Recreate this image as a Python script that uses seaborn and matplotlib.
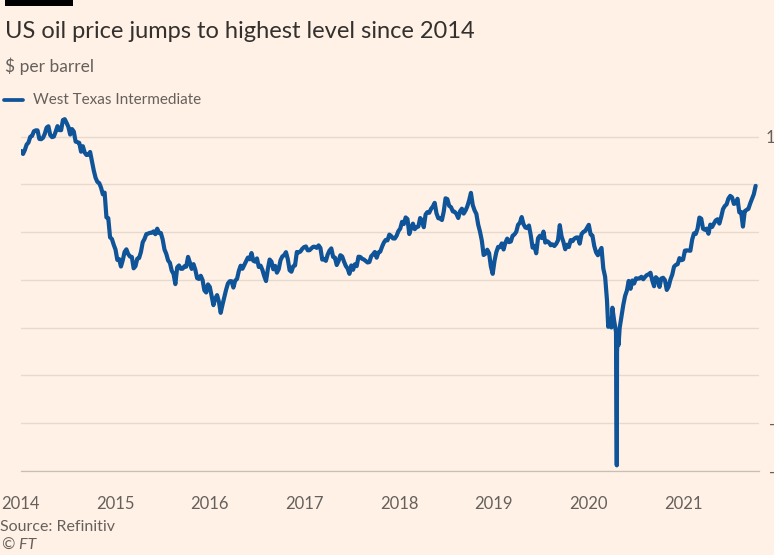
import pandas as pd
import matplotlib.pyplot as plt
import matplotlib.dates as mdates
from matplotlib.lines import Line2D
from matplotlib.patches import Rectangle
import seaborn as sns

# weekly (Friday) WTI closes, $ per barrel
wti_2014 = [93.96, 92.72, 94.37, 96.64, 97.49,
            99.88, 100.30, 102.20, 102.59,
            102.58, 99.00, 98.89, 99.46,
            101.14, 103.74, 104.30, 100.60,
            99.76, 100.00, 102.02, 104.35, 102.71,
            102.66, 106.91, 107.26, 105.74,
            104.06, 100.83, 103.13, 102.09,
            97.88, 97.65, 97.35, 93.65, 95.96,
            93.29, 92.27, 92.41, 93.54,
            89.74, 85.82, 82.75, 81.01, 80.54,
            78.65, 75.82, 76.51, 66.15,
            65.84, 57.81, 57.13, 54.73]
wti_2015 = [52.69, 48.36, 48.69, 45.59, 48.24,
            51.69, 52.78, 50.81, 49.76,
            49.61, 44.84, 45.72, 48.87,
            49.14, 51.64, 55.74, 57.15,
            59.15, 59.39, 59.69, 59.72, 60.30,
            59.13, 61.43, 59.61, 59.63,
            56.93, 52.74, 50.89, 48.14, 47.12,
            43.87, 42.50, 38.24, 45.22,
            46.05, 44.63, 44.68, 45.70,
            45.54, 49.63, 47.26, 44.60, 46.59,
            44.29, 40.74, 40.39, 41.71,
            39.97, 35.62, 34.73, 38.10]
wti_2016 = [37.04, 33.16, 29.42, 32.19, 33.62,
            30.89, 26.21, 29.64, 32.78,
            35.92, 38.50, 39.44, 39.46,
            36.79, 39.72, 40.36, 43.73, 45.92,
            44.66, 46.21, 47.75, 49.33,
            48.62, 51.23, 47.98, 47.64,
            48.99, 45.41, 45.95, 44.19, 41.60,
            39.51, 44.49, 48.52, 47.64,
            44.44, 45.88, 43.03, 44.48, 48.24,
            49.81, 50.35, 51.60, 48.70,
            44.07, 43.41, 45.69, 46.06,
            51.68, 51.50, 51.90, 53.02, 53.72]
wti_2017 = [53.99, 52.37, 52.42, 53.17,
            53.83, 53.86, 53.40, 54.45,
            53.33, 48.49, 48.78, 47.97, 50.60,
            52.24, 53.18, 49.62, 49.33,
            46.22, 47.84, 50.33, 49.80,
            47.66, 45.83, 44.74, 42.53, 46.04,
            44.23, 46.54, 45.77, 49.71,
            49.58, 48.82, 48.51, 47.87,
            47.29, 47.48, 49.89, 50.66, 51.67,
            49.29, 51.45, 51.84, 53.90,
            55.64, 56.74, 56.55, 58.95,
            58.36, 57.36, 57.30, 58.47, 60.42]
wti_2018 = [61.44, 64.30, 63.37, 66.14,
            65.45, 59.20, 61.68, 63.55,
            61.25, 62.04, 62.34, 65.88, 64.94,
            62.06, 67.39, 68.38, 68.10,
            69.72, 70.70, 72.24, 67.88,
            65.81, 65.74, 65.06, 68.58, 74.15,
            73.80, 71.01, 70.46, 68.69,
            68.49, 67.63, 65.91, 68.72, 69.80,
            67.75, 68.99, 70.78, 73.25,
            76.41, 71.34, 69.12, 67.59,
            63.14, 60.19, 56.46, 50.42, 50.93,
            52.61, 51.20, 45.59, 42.53]
wti_2019 = [47.96, 51.59, 53.80, 53.69,
            55.26, 52.72, 55.59, 57.26,
            55.80, 56.07, 58.52, 59.04, 60.14,
            63.08, 63.89, 66.30, 63.30,
            61.94, 61.66, 62.76, 58.63, 53.50,
            54.26, 51.14, 57.43, 58.47,
            57.51, 60.21, 55.63, 56.20,
            55.66, 54.50, 54.87, 54.17, 55.10,
            56.52, 62.90, 58.09, 55.91,
            52.81, 54.70, 53.78, 56.66,
            56.20, 57.24, 57.72, 57.77, 55.17,
            59.20, 60.07, 60.44, 61.72]
wti_2020 = [63.05, 59.04, 58.54, 54.19, 51.56,
            50.32, 52.05, 53.38, 44.76,
            41.28, 31.73, 22.43, 21.51,
            28.34, 22.76, 18.27, 16.94,
            19.78, 24.74, 29.43, 33.25, 35.49,
            39.55, 36.26, 39.75, 38.49,
            40.65, 40.55, 40.59, 41.29, 40.27,
            41.22, 42.01, 42.34, 42.97,
            39.77, 37.33, 41.11, 40.25,
            37.05, 40.60, 40.88, 39.85, 35.79,
            37.14, 40.13, 42.15, 45.53,
            46.26, 46.57, 49.10, 48.23]
wti_2021 = [48.52, 52.24, 52.36, 52.27, 52.20,
            56.85, 59.47, 59.24, 61.50,
            66.09, 65.61, 61.42, 60.97,
            61.45, 59.32, 63.13, 62.14, 63.58,
            64.90, 65.37, 63.58, 66.32,
            69.62, 70.91, 71.64, 74.05,
            75.16, 74.56, 71.81, 72.07, 73.95,
            68.28, 68.44, 62.32, 68.74,
            69.29, 69.72, 71.97, 73.98,
            75.88, 79.35]

# daily closes around the April 2020 crash
crash_dates = ['2020-03-18', '2020-03-30', '2020-04-02', '2020-04-20', '2020-04-21', '2020-04-27']
crash_values = [20.37, 20.09, 25.32, -37.63, 10.01, 12.78]

y_ticks = [-40, -20, 0, 20, 40, 60, 80, 100]

weekly = {2014: wti_2014, 2015: wti_2015, 2016: wti_2016, 2017: wti_2017,
          2018: wti_2018, 2019: wti_2019, 2020: wti_2020, 2021: wti_2021}
frames = []
for yr, vals in weekly.items():
    end = f'{yr}-12-31' if yr < 2021 else '2021-10-08'
    dates = pd.date_range(f'{yr}-01-01', end, freq='W-FRI')
    frames.append(pd.DataFrame({'date': dates, 'price': vals}))
frames.append(pd.DataFrame({'date': pd.to_datetime(crash_dates), 'price': crash_values}))
df = pd.concat(frames).sort_values('date').reset_index(drop=True)

BG = '#FFF1E5'
BLUE = '#0F5499'
GREY = '#66605C'
GRID = '#E6D9CE'
AXIS = '#C9BEB4'

sns.set_theme(style='white')
plt.rcParams['font.family'] = ['Lato', 'DejaVu Sans']
plt.rcParams['axes.unicode_minus'] = False

fig = plt.figure(figsize=(7.74, 5.55), dpi=100, facecolor=BG)
ax = fig.add_axes([20.7 / 774, 1 - 471 / 555, (759 - 20.7) / 774, 355 / 555])
ax.set_facecolor(BG)

sns.lineplot(data=df, x='date', y='price', ax=ax, color=BLUE, lw=3.0,
             solid_joinstyle='round', zorder=3)

ax.set_xlim(pd.Timestamp('2014-01-01'), pd.Timestamp('2021-10-21'))
ax.set_ylim(-40, 108.6)
ax.set_xlabel('')
ax.set_ylabel('')

ax.xaxis.set_major_locator(mdates.YearLocator())
ax.xaxis.set_major_formatter(mdates.DateFormatter('%Y'))
ax.xaxis.set_minor_locator(mdates.MonthLocator(bymonth=[4, 7, 10]))
ax.tick_params(axis='x', which='both', direction='out', length=5.5, width=0.8,
               color=AXIS, labelsize=12, labelcolor=GREY, pad=12.5)
ax.tick_params(axis='x', which='minor', length=5)

# right-hand labels sit mostly beyond the crop, as in the source image
ax.set_yticks(y_ticks)
ax.yaxis.tick_right()
ax.tick_params(axis='y', length=0, labelsize=12, labelcolor=GREY, pad=25.2)
for lab in ax.get_yticklabels():
    lab.set_horizontalalignment('right')
ax.yaxis.grid(True, color=GRID, lw=1)
ax.set_axisbelow(True)

for side in ['left', 'right', 'top']:
    ax.spines[side].set_visible(False)
ax.spines['bottom'].set_color(AXIS)
ax.spines['bottom'].set_linewidth(0.9)

# header
fig.add_artist(Rectangle((5 / 774, 1 - 6 / 555), 68 / 774, 6 / 555,
                         transform=fig.transFigure, color='#000000', lw=0))
fig.text(5 / 774, 1 - 31 / 555, 'US oil price jumps to highest level since 2014',
         fontsize=17, color='#33302E', va='center', ha='left')
fig.text(5 / 774, 1 - 66 / 555, '$ per barrel', fontsize=12.5, color=GREY,
         va='center', ha='left')
fig.add_artist(Line2D([4 / 774, 23 / 774], [1 - 100 / 555] * 2, color=BLUE, lw=2.7,
                      transform=fig.transFigure))
fig.text(33 / 774, 1 - 100 / 555, 'West Texas Intermediate', fontsize=11, color=GREY,
         va='center', ha='left')

# footer
fig.text(0, 1 - 527 / 555, 'Source: Refinitiv', fontsize=11.5, color=GREY,
         va='center', ha='left')
fig.text(2 / 774, 1 - 546 / 555, '© FT', fontsize=11.5, color=GREY, style='italic',
         va='center', ha='left')

fig.savefig('out.png', dpi=100, facecolor=BG)
